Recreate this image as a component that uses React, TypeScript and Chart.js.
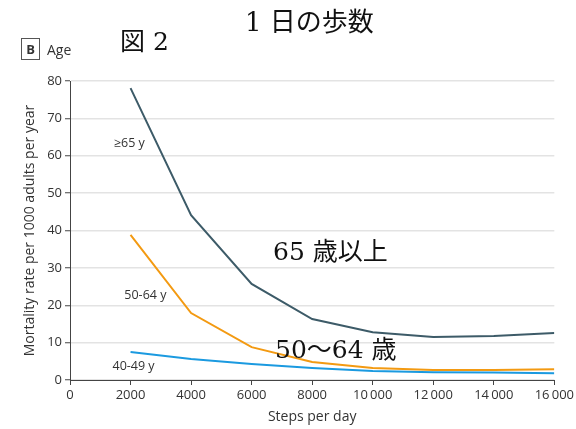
import React, { useEffect, useRef } from "react";
import { Chart, registerables } from "chart.js";

Chart.register(...registerables);

const steps = [2000, 4000, 6000, 8000, 10000, 12000, 14000, 16000];
const age65 = [78.1, 44.1, 25.7, 16.3, 12.8, 11.5, 11.8, 12.6];
const age50 = [38.8, 17.9, 8.8, 4.8, 3.2, 2.7, 2.7, 2.9];
const age40 = [7.5, 5.6, 4.3, 3.2, 2.4, 2.1, 2.0, 1.8];
const seriesLabels = ["\u226565 y", "50-64 y", "40-49 y"];
const labelPos = [
  { x: 1960, y: 63.4 },
  { x: 2490, y: 22.5 },
  { x: 2100, y: 3.7 },
];
const xTitle = "Steps per day";
const yTitle = "Mortality rate per 1000 adults per year";

const FONT = "'Liberation Sans Narrow', 'Open Sans', sans-serif";
const JFONT = "'DejaVu Serif', 'Liberation Serif', 'Noto Sans CJK JP', serif";

const labelPlugin = {
  id: "seriesLabels",
  afterDatasetsDraw(chart: any) {
    const { ctx, scales } = chart;
    ctx.save();
    ctx.font = `12.5px ${FONT}`;
    ctx.fillStyle = "#333";
    ctx.textAlign = "center";
    ctx.textBaseline = "middle";
    seriesLabels.forEach((t, i) => {
      ctx.fillText(t, scales.x.getPixelForValue(labelPos[i].x), scales.y.getPixelForValue(labelPos[i].y));
    });
    ctx.restore();
  },
};

export default function App() {
  const ref = useRef<HTMLCanvasElement>(null);
  useEffect(() => {
    const mk = (data: number[], color: string) => ({
      data: steps.map((s, i) => ({ x: s, y: data[i] })),
      borderColor: color,
      borderWidth: 2,
      pointRadius: 0,
      tension: 0,
      fill: false,
    });
    const chart = new Chart(ref.current!, {
      type: "line",
      data: {
        datasets: [
          mk(age65, "#3d5b68"),
          mk(age50, "#f39a12"),
          mk(age40, "#1b9ae0"),
        ],
      },
      options: {
        animation: false,
        responsive: false,
        layout: { padding: { left: 8, right: 18, top: 81, bottom: 0 } },
        plugins: { legend: { display: false }, tooltip: { enabled: false } },
        scales: {
          x: {
            type: "linear",
            min: 0,
            max: 16000,
            ticks: {
              stepSize: 2000,
              color: "#333",
              font: { family: FONT, size: 13 },
              padding: 2,
              maxRotation: 0,
              callback: (v: any) => (v >= 10000 ? `${Math.floor(v / 1000)}\u2009${String(v % 1000).padStart(3, "0")}` : String(v)),
            },
            grid: { display: true, drawOnChartArea: false, drawTicks: true, tickLength: 5, color: "#444" },
            border: { color: "#444", width: 1 },
            title: { display: true, text: xTitle, color: "#333", font: { family: FONT, size: 14 }, padding: { top: 6 } },
            afterFit: (s: any) => { s.height = 49; },
          },
          y: {
            min: 0,
            max: 80,
            ticks: { stepSize: 10, color: "#333", font: { family: FONT, size: 13 }, padding: 3 },
            grid: { color: "#e3e3e3", lineWidth: 1.5, tickLength: 5, tickColor: "#444", tickWidth: 1 },
            border: { color: "#444", width: 1 },
            title: { display: true, text: yTitle, color: "#333", font: { family: FONT, size: 14 }, padding: { top: 14, bottom: 2 } },
            afterFit: (s: any) => { s.width = 62; },
          },
        },
      },
      plugins: [labelPlugin],
    } as any);
    return () => chart.destroy();
  }, []);

  const abs = (x: number, y: number, extra: any = {}) => ({ position: "absolute" as const, left: x, top: y, whiteSpace: "nowrap" as const, ...extra });

  return (
    <div style={{ position: "absolute", left: 0, top: 0, width: 576, height: 429, background: "#fff" }}>
      <canvas ref={ref} width={576} height={429} style={{ position: "absolute", left: 0, top: 0 }} />
      <div style={abs(21, 38, { width: 17, height: 20, border: "1px solid #555", fontFamily: FONT, fontSize: 13, fontWeight: "bold", color: "#333", textAlign: "center", lineHeight: "20px" })}>B</div>
      <div style={abs(47, 40, { fontFamily: FONT, fontSize: 14, color: "#333", lineHeight: "20px" })}>Age</div>
      <div style={abs(120, 27, { fontFamily: JFONT, fontSize: 25, color: "#111", lineHeight: "30px" })}>図 2</div>
      <div style={abs(245, 7, { fontFamily: JFONT, fontSize: 26, color: "#111", lineHeight: "30px" })}>1 日の歩数</div>
      <div style={abs(273, 237, { fontFamily: JFONT, fontSize: 25, color: "#111", lineHeight: "30px" })}>65 歳以上</div>
      <div style={abs(275, 335, { fontFamily: JFONT, fontSize: 25, color: "#111", lineHeight: "30px" })}>50〜64 歳</div>
    </div>
  );
}
